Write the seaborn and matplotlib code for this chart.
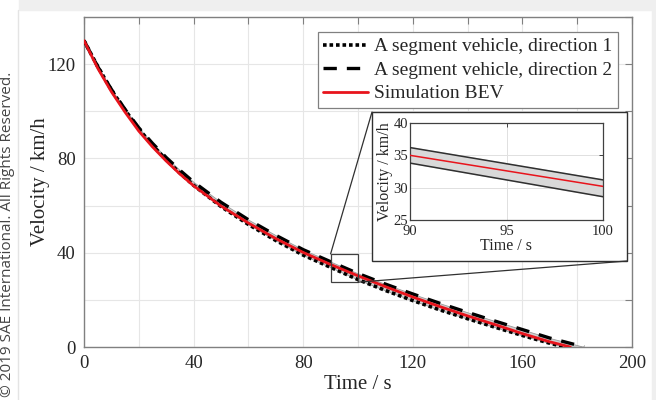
import numpy as np
import seaborn as sns
import matplotlib
matplotlib.use('Agg')
import matplotlib.pyplot as plt
from matplotlib.patches import Rectangle, ConnectionPatch
from matplotlib.lines import Line2D

# coast-down readings (time in s, velocity in km/h)
t_dir1 = [0, 5, 10, 15, 20, 25, 30, 35, 40, 50, 60, 70, 80, 90, 100, 110, 120, 130, 140, 150, 160, 170, 175.5]
v_dir1 = [130, 119, 109, 100.5, 92.5, 85.6, 79.4, 73.8, 68.6, 59.6, 52.0, 45.2, 39.0, 33.8, 28.6, 24.0, 19.7, 15.7, 12.0, 8.4, 4.9, 1.6, 0]
t_dir2 = [0, 5, 10, 15, 20, 25, 30, 35, 40, 50, 60, 70, 80, 90, 100, 110, 120, 130, 140, 150, 160, 170, 180, 182.5]
v_dir2 = [130, 119, 109.3, 100.8, 93.0, 86.4, 80.4, 75.0, 70.0, 61.4, 54.0, 47.4, 41.3, 36.2, 31.2, 26.7, 22.5, 18.5, 14.7, 11.0, 7.4, 3.8, 0.8, 0]
t_sim = [0, 5, 10, 15, 20, 25, 30, 35, 40, 50, 60, 70, 80, 90, 100, 110, 120, 130, 140, 150, 160, 170, 177.5]
v_sim = [130, 118.3, 108.3, 99.6, 91.6, 84.9, 78.9, 73.4, 68.4, 59.8, 52.6, 46.0, 40.1, 35.0, 30.2, 25.6, 21.2, 17.1, 13.2, 9.5, 5.7, 2.2, 0]

labels = ['A segment vehicle, direction 1', 'A segment vehicle, direction 2', 'Simulation BEV']
x_ticks = list(range(0, 201, 20))
y_ticks = list(range(0, 141, 20))
zoom_box = (90, 100, 27.5, 39.5)

sns.set_theme(style='whitegrid')
plt.rcParams['font.family'] = ['Liberation Serif', 'DejaVu Serif']
txt = '#262626'

fig = plt.figure(figsize=(6.56, 4.0), dpi=100)
fig.patch.set_facecolor('white')
# page shadow strips
fig.patches.append(Rectangle((19/656, 390/400), 1, 0.1, transform=fig.transFigure, color='#efefef', zorder=0))
fig.patches.append(Rectangle((652/656, 0), 0.1, 1, transform=fig.transFigure, color='#efefef', zorder=0))
fig.lines.append(Line2D([18/656, 18/656], [0, 390/400], transform=fig.transFigure, color='#e4e4e4', lw=1))

ax = fig.add_axes([84/656, 53/400, 548/656, 330/400])

# band between both directions
tg = np.linspace(0, 182.5, 400)
lo = np.interp(tg, t_dir1, v_dir1)
hi = np.interp(tg, t_dir2, v_dir2)
ax.fill_between(tg, lo, hi, color='#cfcfcf', edgecolor='#9a9a9a', lw=0.6, zorder=2)

sns.lineplot(x=t_dir1, y=v_dir1, ax=ax, color='black', lw=2.6, ls=(0, (1, 0.8)), label=labels[0], zorder=3)
sns.lineplot(x=t_dir2, y=v_dir2, ax=ax, color='black', lw=2.4, ls=(0, (4, 3)), label=labels[1], zorder=3)
sns.lineplot(x=t_sim, y=v_sim, ax=ax, color='#e8141c', lw=2.0, label=labels[2], zorder=4)

ax.set_xlim(0, 200)
ax.set_ylim(0, 140)
ax.set_xticks(x_ticks)
ax.set_xticklabels([str(v) if v % 40 == 0 else '' for v in x_ticks])
ax.set_yticks(y_ticks)
ax.set_yticklabels([str(v) if v % 40 == 0 else '' for v in y_ticks])
ax.tick_params(direction='in', length=5, width=0.8, color='#808080', top=True, right=True,
               labelsize=13.5, labelcolor=txt, pad=6)
ax.grid(True, color='#e6e6e6', lw=0.8)
for s in ax.spines.values():
    s.set_visible(True)
    s.set_color('#808080')
    s.set_linewidth(1.0)
ax.set_facecolor('white')
ax.set_xlabel('Time / s', fontsize=15, color=txt, labelpad=2)
ax.set_ylabel('Velocity / km/h', fontsize=15, color=txt, labelpad=-2)

leg = ax.legend(loc='upper right', bbox_to_anchor=(0.9745, 0.9545), borderaxespad=0,
                fontsize=14, frameon=True, fancybox=False, framealpha=1, edgecolor='#808080',
                handlelength=2.3, handletextpad=0.3, labelspacing=0.3, borderpad=0.3)
leg.get_frame().set_linewidth(0.9)
for t in leg.get_texts():
    t.set_color(txt)

# zoom rectangle and inset frame
x0, x1, y0, y1 = zoom_box
ax.add_patch(Rectangle((x0, y0), x1 - x0, y1 - y0, fill=False, ec='#404040', lw=0.9, zorder=6))
fx0, fy0, fx1, fy1 = 372/656, 1 - 261/400, 627/656, 1 - 112/400
frame = Rectangle((fx0, fy0), fx1 - fx0, fy1 - fy0, transform=fig.transFigure, fc='white',
                  ec='#303030', lw=1.0, zorder=7, clip_on=False)
ax.add_patch(frame)
for xa, xb in [((x0, y1), (fx0, fy1)), ((x1, y0), (fx1, fy0))]:
    con = ConnectionPatch(xyA=xa, coordsA='data', axesA=ax, xyB=xb, coordsB='figure fraction',
                          color='#303030', lw=0.9, zorder=7)
    ax.add_artist(con)

axin = fig.add_axes([410/656, 180/400, 193/656, 97/400])
axin.fill_between(tg, lo, hi, color='#d9d9d9', zorder=2)
sns.lineplot(x=t_dir1, y=v_dir1, ax=axin, color='#303030', lw=1.1, zorder=3)
sns.lineplot(x=t_dir2, y=v_dir2, ax=axin, color='#303030', lw=1.1, zorder=3)
sns.lineplot(x=t_sim, y=v_sim, ax=axin, color='#e8141c', lw=1.1, zorder=4)
axin.set_xlim(90, 100)
axin.set_ylim(25, 40)
axin.set_xticks([90, 95, 100])
axin.set_yticks([25, 30, 35, 40])
axin.tick_params(direction='in', length=3, width=0.7, color='#404040', top=True, right=True,
                 labelsize=10.5, labelcolor=txt)
axin.tick_params(axis='x', pad=3.5)
axin.tick_params(axis='y', pad=1.5)
axin.grid(True, color='#e0e0e0', lw=0.7)
axin.set_facecolor('white')
for s in axin.spines.values():
    s.set_visible(True)
    s.set_color('#404040')
    s.set_linewidth(0.9)
axin.set_xlabel('Time / s', fontsize=11.5, color=txt, labelpad=0)
axin.set_ylabel('Velocity / km/h', fontsize=11.5, color=txt, labelpad=0)

fig.text(8/656, 3/400, '\u00a9 2019 SAE International. All Rights Reserved.', rotation=90,
         family=['Open Sans', 'DejaVu Sans'], fontsize=11, color='#444444', ha='center',
         va='bottom', transform=fig.transFigure)

fig.savefig('out.png', dpi=100, facecolor=fig.get_facecolor())
